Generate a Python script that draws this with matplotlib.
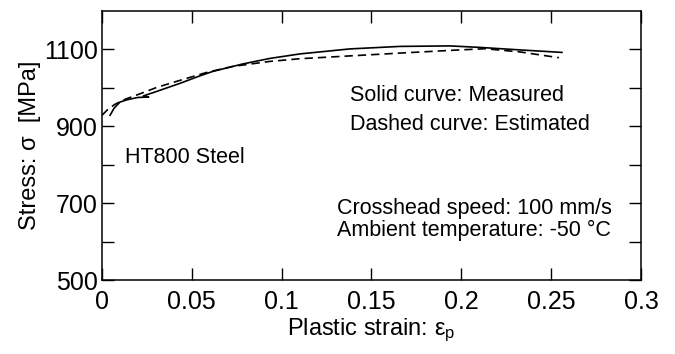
import numpy as np
import matplotlib
matplotlib.use('Agg')
import matplotlib.pyplot as plt

plt.rcParams['font.family'] = ['Liberation Sans', 'DejaVu Sans']
plt.rcParams['mathtext.fontset'] = 'custom'
plt.rcParams['mathtext.rm'] = 'Liberation Sans'
plt.rcParams['mathtext.it'] = 'Liberation Sans:italic'

# Measured curve (solid), with the small hook near 0.026
strain_meas = [0.0045, 0.0067, 0.010, 0.014, 0.020, 0.026, 0.023, 0.030,
               0.0434, 0.0545, 0.0618, 0.0785, 0.0935, 0.1102, 0.138, 0.1658,
               0.1937, 0.2104, 0.2326, 0.256]
stress_meas = [928.6, 946.8, 963.0, 969.0, 975.0, 976.0, 979.0, 990.0,
               1011.7, 1031.2, 1042.9, 1062.3, 1076.6, 1088.3, 1101.3, 1107.8,
               1109.1, 1105.2, 1098.7, 1092.2]

# Estimated curve (dashed)
strain_est = [0.0, 0.0033, 0.0072, 0.0128, 0.0211, 0.0306, 0.0434, 0.0584,
              0.0729, 0.0935, 0.1102, 0.138, 0.1658, 0.1937, 0.2131, 0.2326,
              0.2543]
stress_est = [928.6, 944.2, 957.1, 970.1, 984.4, 1001.3, 1019.5, 1040.3,
              1055.8, 1068.8, 1075.8, 1083.1, 1090.4, 1097.4, 1101.8, 1093.5,
              1078.4]

x_ticks = [0, 0.05, 0.1, 0.15, 0.2, 0.25, 0.3]
x_labels = ['0', '0.05', '0.1', '0.15', '0.2', '0.25', '0.3']
y_major = [500, 700, 900, 1100]
y_minor = [600, 800, 1000]

fig = plt.figure(figsize=(6.75, 3.54), dpi=100)
ax = fig.add_axes([0.1511, 0.209, 0.7985, 0.760])

ax.plot(strain_meas, stress_meas, color='black', lw=1.2)
ax.plot(strain_est, stress_est, color='black', lw=1.2, linestyle=(0, (5, 3)))

ax.set_xlim(0, 0.3)
ax.set_ylim(500, 1200)
ax.set_xticks(x_ticks)
ax.set_xticklabels(x_labels)
ax.set_yticks(y_major)
ax.set_yticks(y_minor, minor=True)

ax.tick_params(which='both', direction='in', top=True, right=True,
               length=8.5, width=1.0, labelsize=18)
ax.tick_params(axis='x', pad=7)
ax.tick_params(axis='y', pad=3)
for s in ax.spines.values():
    s.set_linewidth(1.1)

ax.set_xlabel(r'Plastic strain: $\mathrm{\varepsilon_p}$', fontsize=17, labelpad=2)
ax.set_ylabel('Stress: σ  [MPa]', fontsize=17, labelpad=2)

ax.text(0.138, 980, 'Solid curve: Measured', fontsize=15.5, va='center')
ax.text(0.138, 905, 'Dashed curve: Estimated', fontsize=15.5, va='center')
ax.text(0.0128, 820, 'HT800 Steel', fontsize=15.5, va='center')
ax.text(0.131, 687, 'Crosshead speed: 100 mm/s', fontsize=15.5, va='center')
ax.text(0.131, 630, 'Ambient temperature: -50 °C', fontsize=15.5, va='center')

fig.savefig('out.png', dpi=100)
